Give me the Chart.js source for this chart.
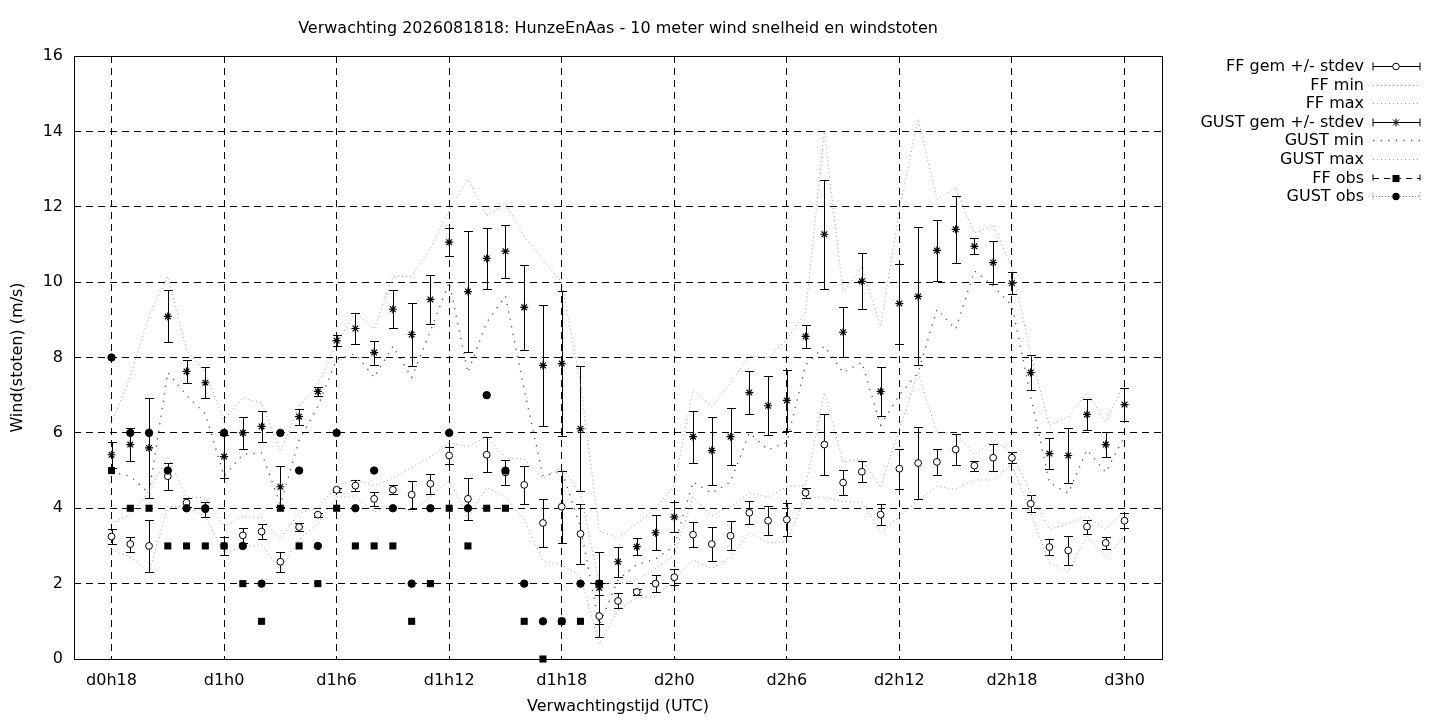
<!DOCTYPE html>
<html>
<head>
<meta charset="utf-8">
<script src="https://cdn.jsdelivr.net/npm/chart.js@4.4.1/dist/chart.umd.min.js"></script>
<style>
html, body { margin: 0; padding: 0; background: #fff; }
</style>
</head>
<body>
<canvas id="myChart" width="1440" height="720"></canvas>
<script>
/* forecast hours since d0h0 */
const hours = [18,19,20,21,22,23,24,25,26,27,28,29,30,31,32,33,34,35,36,37,38,39,40,41,42,43,44,45,46,47,48,49,50,51,52,53,54,55,56,57,58,59,60,61,62,63,64,65,66,67,68,69,70,71,72];
const tickHours = [18,24,30,36,42,48,54,60,66,72];
const tickLabels = ["d0h18","d1h0","d1h6","d1h12","d1h18","d2h0","d2h6","d2h12","d2h18","d3h0"];

const ffMean = [3.25,3.05,3.0,4.85,4.15,3.97,3.0,3.28,3.38,2.58, 3.5,3.83,4.49,4.6,4.25,4.49,4.36,4.65,5.4,4.25, 5.42,4.95,4.62,3.61,4.04,3.32,1.14,1.54,1.78,2.0, 2.17,3.3,3.05,3.27,3.88,3.67,3.7,4.41,5.69,4.68, 4.97,3.83,5.05,5.2,5.23,5.56,5.13,5.34,5.34,4.12, 2.97,2.88,3.51,3.08,3.67];
const ffStdev = [0.2,0.2,0.7,0.36,0.12,0.2,0.23,0.2,0.2,0.26, 0.11,0.05,0.06,0.14,0.18,0.12,0.37,0.27,0.23,0.55, 0.47,0.34,0.5,0.64,0.96,0.8,0.55,0.2,0.08,0.23, 0.21,0.34,0.45,0.39,0.3,0.39,0.43,0.13,0.8,0.33, 0.28,0.27,0.53,0.95,0.35,0.41,0.13,0.36,0.15,0.22, 0.22,0.39,0.19,0.17,0.2];
const ffMin = [2.9,2.7,2.3,4.05,4.05,3.78,2.82,2.97,3.03,2.37, 3.17,3.6,4.3,4.3,3.9,4.1,3.9,4.3,4.75,3.75, 4.55,4.3,3.7,2.6,2.5,2.2,0.4,1.3,1.62,1.65, 2.1,2.63,2.4,2.7,3.35,3.08,3.12,4.28,4.3,4.18, 4.15,3.35,3.78,4.22,4.58,4.5,4.75,4.75,5.15,3.88, 2.55,2.32,3.25,2.72,3.25];
const ffMax = [3.6,3.83,4.45,5.37,4.3,4.28,3.5,3.78,3.75,3.17, 3.88,4.0,4.6,4.76,4.6,4.8,5.07,5.37,5.73,5.64, 5.9,5.34,5.3,4.8,5.1,4.4,2.0,2.0,2.1,2.4, 2.75,4.3,3.8,4.05,4.4,4.3,4.57,4.6,7.07,5.23, 5.3,4.55,6.1,7.6,6.0,6.0,5.42,5.82,5.47,4.4, 3.43,3.6,3.78,3.43,3.96];

const gustMean = [5.42,5.69,5.6,9.09,7.63,7.33,5.37,6.0,6.17,4.57, 6.43,7.1,8.45,8.77,8.13,9.28,8.61,9.54,11.06,9.75, 10.63,10.82,9.33,7.79,7.84,6.11,1.89,2.58,2.98,3.35, 3.77,5.9,5.53,5.9,7.07,6.72,6.86,8.56,11.27,8.67, 10.02,7.1,9.43,9.62,10.84,11.4,10.95,10.52,9.97,7.6, 5.45,5.4,6.49,5.69,6.75];
const gustStdev = [0.35,0.44,1.33,0.69,0.31,0.41,0.58,0.43,0.41,0.54, 0.21,0.13,0.15,0.4,0.32,0.5,0.84,0.66,0.38,1.6, 0.8,0.7,1.12,1.6,1.92,1.66,0.95,0.4,0.23,0.46, 0.39,0.69,0.9,0.76,0.58,0.78,0.81,0.3,1.45,0.66, 0.74,0.65,1.06,1.83,0.82,0.89,0.21,0.58,0.29,0.46, 0.42,0.73,0.42,0.33,0.43];
const gustMin = [4.95,4.85,4.4,7.6,7.0,6.5,4.85,5.43,5.47,4.1, 5.8,6.7,7.95,8.1,7.47,8.3,7.47,8.7,10.0,7.6, 8.93,9.63,7.15,4.85,5.0,3.5,0.9,2.1,2.5,2.65, 3.0,4.7,4.4,4.7,6.0,5.55,5.75,7.8,8.3,7.6, 7.87,6.2,7.0,7.6,9.28,8.75,10.3,9.9,9.37,6.97, 4.68,4.4,5.55,4.95,5.9];
const gustMax = [6.25,7.5,9.1,10.15,8.2,7.6,6.35,6.93,6.8,5.5, 6.7,7.3,8.35,9.2,8.75,10.15,10.15,10.9,11.9,12.73, 11.75,12.1,11.2,10.6,10.0,7.3,3.4,3.2,3.6,4.0, 4.6,7.15,6.7,7.33,8.03,8.0,8.48,9.2,14.0,9.72, 10.4,8.83,11.93,14.33,12.2,12.5,11.3,11.5,10.4,8.1, 6.2,6.43,7.07,6.3,7.33];

/* observations */
const obsHours = [18,19,20,21,22,23,24,25,26,27,28,29,30,31,32,33,34,35,36,37,38,39,40,41,42,43,44];
const ffObs = [5,4,4,3,3,3,3,2,1,4, 3,2,4,3,3,3,1,2,4,3, 4,4,1,0,1,1,2];
const gustObs = [8,6,6,5,4,4,6,3,2,6, 5,3,6,4,5,4,2,4,6,4, 7,5,2,1,1,2,2];

const titleText = "Verwachting 2026081818: HunzeEnAas - 10 meter wind snelheid en windstoten";
const legendNames = ["FF gem +/- stdev","FF min","FF max","GUST gem +/- stdev","GUST min","GUST max","FF obs","GUST obs"];

function pts(xs, ys) {
    return xs.map((h, i) => ({x: h, y: ys[i]}));
}

Chart.defaults.font.family = "'DejaVu Sans', sans-serif";
Chart.defaults.font.size = 16;
Chart.defaults.color = "#000";

const ctx = document.getElementById("myChart").getContext("2d");

const lightDots = {borderColor: "#9a9a9a", borderWidth: 1, borderDash: [1, 3], pointRadius: 0, showLine: true, fill: false, tension: 0};

/* error bars drawn under the markers */
const errorBars = {
    id: "errorBars",
    beforeDatasetsDraw(chart) {
        const c = chart.ctx;
        const x = chart.scales.x, y = chart.scales.y;
        c.save();
        c.strokeStyle = "#000";
        c.lineWidth = 1;
        [[ffMean, ffStdev], [gustMean, gustStdev]].forEach(function(pair) {
            const m = pair[0], s = pair[1];
            for (let i = 0; i < hours.length; i++) {
                const px = Math.round(x.getPixelForValue(hours[i])) + 0.5;
                const top = Math.round(y.getPixelForValue(m[i] + s[i])) + 0.5;
                const bot = Math.round(y.getPixelForValue(m[i] - s[i])) + 0.5;
                c.beginPath();
                c.moveTo(px, top); c.lineTo(px, bot);
                c.moveTo(px - 4.5, top); c.lineTo(px + 4.5, top);
                c.moveTo(px - 4.5, bot); c.lineTo(px + 4.5, bot);
                c.stroke();
            }
        });
        c.restore();
    }
};

/* border, title and gnuplot style key */
const frame = {
    id: "frame",
    afterDraw(chart) {
        const c = chart.ctx;
        const a = chart.chartArea;
        c.save();
        c.strokeStyle = "#000";
        c.lineWidth = 1;
        c.setLineDash([]);
        c.strokeRect(a.left + 0.5, a.top + 0.5, a.right - a.left, a.bottom - a.top);

        c.fillStyle = "#000";
        c.font = "16px 'DejaVu Sans', sans-serif";
        c.textAlign = "center";
        c.textBaseline = "middle";
        c.fillText(titleText, (a.left + a.right) / 2, 29);

        const x0 = 1373, x1 = 1420, xm = 1396;
        for (let i = 0; i < legendNames.length; i++) {
            const yy = Math.round(66 + i * 18.6) + 0.5;
            c.textAlign = "right";
            c.fillStyle = "#000";
            c.setLineDash([]);
            c.fillText(legendNames[i], 1364, yy);
            c.beginPath();
            if (i === 0 || i === 3) {
                c.strokeStyle = "#000";
                c.moveTo(x0, yy); c.lineTo(x1, yy);
                c.moveTo(x0, yy - 4); c.lineTo(x0, yy + 4);
                c.moveTo(x1, yy - 4); c.lineTo(x1, yy + 4);
                c.stroke();
                if (i === 0) {
                    c.beginPath();
                    c.fillStyle = "#fff";
                    c.arc(xm, yy, 3.3, 0, Math.PI * 2);
                    c.fill(); c.stroke();
                } else {
                    c.beginPath();
                    c.moveTo(xm - 4, yy); c.lineTo(xm + 4, yy);
                    c.moveTo(xm, yy - 4); c.lineTo(xm, yy + 4);
                    c.moveTo(xm - 3, yy - 3); c.lineTo(xm + 3, yy + 3);
                    c.moveTo(xm - 3, yy + 3); c.lineTo(xm + 3, yy - 3);
                    c.stroke();
                }
            } else if (i === 4) {
                c.strokeStyle = "#555";
                c.lineWidth = 1.3;
                c.setLineDash([1.3, 6.3]);
                c.moveTo(x0, yy); c.lineTo(x1, yy);
                c.stroke();
                c.lineWidth = 1;
            } else if (i === 6 || i === 7) {
                c.strokeStyle = i === 6 ? "#000" : "#777";
                c.setLineDash(i === 6 ? [6, 5] : [1, 2]);
                c.moveTo(x0, yy); c.lineTo(x1, yy);
                c.moveTo(x0, yy - 4); c.lineTo(x0, yy + 4);
                c.moveTo(x1, yy - 4); c.lineTo(x1, yy + 4);
                c.stroke();
                c.setLineDash([]);
                c.fillStyle = "#000";
                c.beginPath();
                if (i === 6) {
                    c.rect(xm - 3.5, yy - 3.5, 7, 7);
                } else {
                    c.arc(xm, yy, 3.7, 0, Math.PI * 2);
                }
                c.fill();
            } else {
                c.strokeStyle = "#9a9a9a";
                c.setLineDash([1, 3]);
                c.moveTo(x0, yy); c.lineTo(x1, yy);
                c.stroke();
            }
        }
        c.restore();
    }
};

const myChart = new Chart(ctx, {
    type: "scatter",
    data: {
        datasets: [
            {label: "GUST obs", data: pts(obsHours, gustObs), pointStyle: "circle", pointRadius: 3.7, backgroundColor: "#000", borderColor: "#000", borderWidth: 1, clip: false, order: 0},
            {label: "FF obs", data: pts(obsHours, ffObs), pointStyle: "rect", pointRadius: 5, backgroundColor: "#000", borderColor: "#000", borderWidth: 0, clip: false, order: 1},
            {label: "GUST gem +/- stdev", data: pts(hours, gustMean), pointStyle: "star", pointRadius: 4, backgroundColor: "#000", borderColor: "#000", borderWidth: 1.2, order: 2},
            {label: "FF gem +/- stdev", data: pts(hours, ffMean), pointStyle: "circle", pointRadius: 3.4, backgroundColor: "#fff", borderColor: "#000", borderWidth: 1, order: 3},
            Object.assign({label: "GUST max", data: pts(hours, gustMax), order: 4}, lightDots),
            {label: "GUST min", data: pts(hours, gustMin), borderColor: "#555", borderWidth: 1.3, borderDash: [1.3, 6.3], pointRadius: 0, showLine: true, fill: false, tension: 0, order: 5},
            Object.assign({label: "FF max", data: pts(hours, ffMax), order: 6}, lightDots),
            Object.assign({label: "FF min", data: pts(hours, ffMin), order: 7}, lightDots)
        ]
    },
    options: {
        responsive: false,
        animation: false,
        events: [],
        layout: {padding: {left: 0, top: 56, right: 278, bottom: 0}},
        plugins: {
            legend: {display: false},
            tooltip: {enabled: false}
        },
        scales: {
            x: {
                type: "linear",
                min: 16,
                max: 74,
                afterBuildTicks: (scale) => { scale.ticks = tickHours.map(v => ({value: v})); },
                afterFit: (scale) => { scale.height = 61; },
                ticks: {
                    padding: 12,
                    autoSkip: false,
                    maxRotation: 0,
                    callback: (value) => tickLabels[tickHours.indexOf(value)]
                },
                grid: {color: "#000", lineWidth: 1, drawTicks: false},
                border: {display: false, dash: [7, 5]},
                title: {display: true, text: "Verwachtingstijd (UTC)", padding: {top: 0, bottom: 3.5}}
            },
            y: {
                min: 0,
                max: 16,
                afterFit: (scale) => { scale.width = 74; },
                ticks: {stepSize: 2, padding: 11},
                grid: {color: "#000", lineWidth: 1, drawTicks: false},
                border: {display: false, dash: [7, 5]},
                title: {display: true, text: "Wind(stoten) (m/s)", padding: {top: 8.5, bottom: 0}}
            }
        }
    },
    plugins: [errorBars, frame]
});
</script>
</body>
</html>
